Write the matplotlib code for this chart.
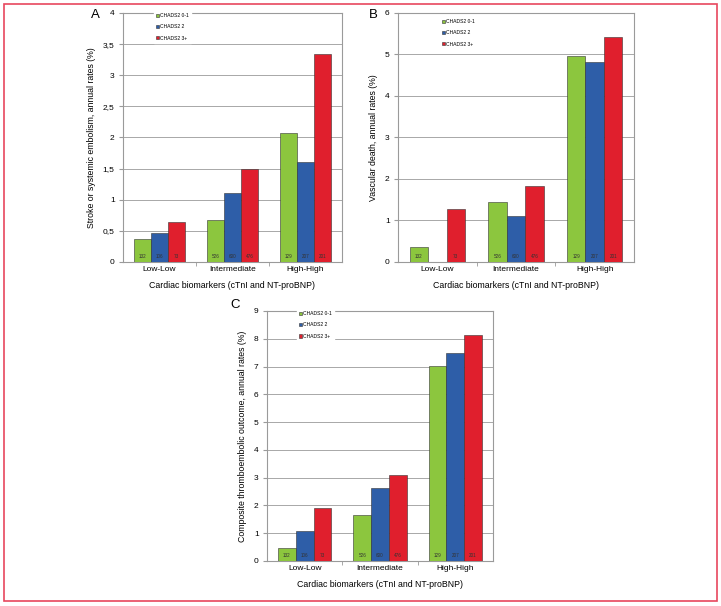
import matplotlib.pyplot as plt
from matplotlib.patches import Rectangle
from matplotlib.ticker import FuncFormatter, FixedLocator
import numpy as np

plt.rcParams['font.family'] = ['Liberation Sans', 'DejaVu Sans']

# Data
categories = ['Low-Low', 'Intermediate', 'High-High']
series_names = ['CHADS2 0-1', 'CHADS2 2', 'CHADS2 3+']
colors = ['#8cc63e', '#2e5ea8', '#e01f2d']

# sample sizes printed inside the bars
counts = [[132, 526, 129],
          [106, 600, 207],
          [73, 476, 201]]

# A: stroke or systemic embolism
stroke_01 = [0.37, 0.67, 2.07]
stroke_2 = [0.47, 1.11, 1.61]
stroke_3 = [0.64, 1.50, 3.34]

# B: vascular death
vasc_01 = [0.37, 1.44, 4.96]
vasc_2 = [0.0, 1.11, 4.82]
vasc_3 = [1.28, 1.82, 5.43]

# C: composite thromboembolic outcome
comp_01 = [0.47, 1.64, 7.02]
comp_2 = [1.09, 2.64, 7.49]
comp_3 = [1.92, 3.11, 8.13]

# letter, axes rect, data, y label, ymax, step, legend anchor, letter pos (px)
panels = [
    ('A', [0.1706, 0.5677, 0.3037, 0.4109], [stroke_01, stroke_2, stroke_3],
     'Stroke or systemic embolism, annual rates (%)', 4, 0.5, (0.13, 0.944), (95, 15)),
    ('B', [0.552, 0.5677, 0.3273, 0.4109], [vasc_01, vasc_2, vasc_3],
     'Vascular death, annual rates (%)', 6, 1, (0.167, 0.92), (373, 15)),
    ('C', [0.3703, 0.0743, 0.3135, 0.4125], [comp_01, comp_2, comp_3],
     'Composite thromboembolic outcome, annual rates (%)', 9, 1, (0.122, 0.944), (235, 305)),
]

W, H = 721, 606
fig = plt.figure(figsize=(W / 100, H / 100), dpi=100)

# pink frame around the whole figure
fig.patches.append(Rectangle((0.006, 0.008), 0.988, 0.985, transform=fig.transFigure,
                             fill=False, edgecolor='#e8475e', linewidth=1.2))

comma = FuncFormatter(lambda v, p: ('%g' % v).replace('.', ','))
grid_col = '#9a9a9a'
width = 0.235
x = np.arange(len(categories))

for letter, rect, data, ylabel, ymax, step, leg_at, let_at in panels:
    ax = fig.add_axes(rect)
    for i, vals in enumerate(data):
        pos = x + (i - 1) * width
        ax.bar(pos, vals, width, color=colors[i], edgecolor='#333333',
               linewidth=0.4, label=series_names[i], zorder=3)
        for px, v, n in zip(pos, vals, counts[i]):
            if v <= 0:
                continue  # no bar, no count shown
            ax.text(px, ymax * 0.012, str(n), ha='center', va='bottom',
                    fontsize=3.3, color='#333333', zorder=4)
    ax.set_xlim(-0.5, 2.5)
    ax.set_ylim(0, ymax)
    ax.set_yticks(np.arange(0, ymax + step / 2, step))
    ax.yaxis.set_major_formatter(comma)
    ax.yaxis.grid(True, color=grid_col, linewidth=0.6, zorder=0)
    ax.set_xticks(x)
    ax.set_xticklabels(categories)
    ax.xaxis.set_minor_locator(FixedLocator([0.5, 1.5]))
    ax.tick_params(axis='x', which='major', length=0, labelsize=6, pad=3)
    ax.tick_params(axis='x', which='minor', length=3, color=grid_col, direction='out')
    ax.tick_params(axis='y', labelsize=6, length=3, color=grid_col, pad=3)
    for s in ax.spines.values():
        s.set_color(grid_col)
        s.set_linewidth(0.8)
    ax.set_ylabel(ylabel, fontsize=6.3, labelpad=5)
    ax.set_xlabel('Cardiac biomarkers (cTnI and NT-proBNP)', fontsize=6.3, labelpad=6)
    leg = ax.legend(loc='center left', bbox_to_anchor=leg_at, fontsize=3.6,
                    frameon=True, framealpha=1, edgecolor='white', fancybox=False,
                    handlelength=0.6, handleheight=0.6, handletextpad=0.25,
                    labelspacing=1.25, borderpad=0.4)
    leg.set_zorder(5)
    fig.text(let_at[0] / W, 1 - let_at[1] / H, letter, fontsize=9.5,
             ha='center', va='center')

fig.savefig('out.png', dpi=100)
